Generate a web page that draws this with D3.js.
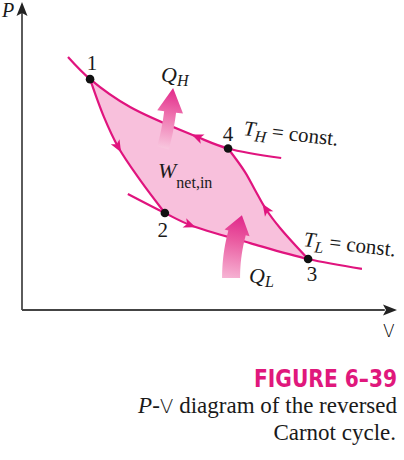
<!DOCTYPE html>
<html><head><meta charset="utf-8">
<script src="https://cdn.jsdelivr.net/npm/d3@7"></script>
<style>body{margin:0;background:#fff} svg{display:block}</style>
</head><body>
<svg id="c" width="404" height="460"></svg>
<script>
// ---- data (arbitrary V,P units) ----
const isoHighV = [1.23, 1.82, 2.89, 4.68, 5.51, 6.93];
const isoHighP = [8.24, 7.52, 6.61, 5.64, 5.26, 4.95];
const isoLowV  = [2.83, 3.82, 4.49, 6.10, 7.65, 9.09];
const isoLowP  = [3.78, 3.16, 2.77, 2.18, 1.66, 1.34];
const adi12V   = [1.82, 2.19, 2.57, 3.16, 3.82];
const adi12P   = [7.52, 6.29, 5.31, 4.23, 3.16];
const adi34V   = [7.65, 6.90, 6.52, 6.23, 5.96, 5.51];
const adi34P   = [1.66, 2.67, 3.29, 3.91, 4.50, 5.26];
const stateLabels = ["1", "2", "3", "4"];
const stateV = [1.82, 3.82, 7.65, 5.51];
const stateP = [7.52, 3.16, 1.66, 5.26];
// direction arrows on the cycle
const dirArrowV = [2.57, 4.49, 6.52, 4.68];
const dirArrowP = [5.31, 2.77, 3.29, 5.64];
// heat arrows: bottom, head base, tip
const heatNames = ["QH", "QL"];
const heatBottomV = [3.77, 5.59], heatBottomP = [5.28, 1.04];
const heatBaseV   = [3.96, 5.75], heatBaseP   = [6.45, 2.51];
const heatTipV    = [4.04, 5.88], heatTipP    = [7.23, 3.09];

const MAG = "#e0147e", FILL = "#f8c0dc";
const svg = d3.select("#c");
const x = d3.scaleLinear().domain([0, 10]).range([22, 396]);
const y = d3.scaleLinear().domain([0, 10]).range([310, 3]);
const zip = (V, P) => V.map((v, i) => [v, P[i]]);
const line = d3.line().x(d => x(d[0])).y(d => y(d[1])).curve(d3.curveCatmullRom.alpha(0.5));

const TH = zip(isoHighV, isoHighP), TL = zip(isoLowV, isoLowP);
const A12 = zip(adi12V, adi12P), A34 = zip(adi34V, adi34P);

// fill: 1 -> 4 along TH, 4 -> 3, 3 -> 2 along TL, 2 -> 1
const seg = [TH.slice(1, 5), A34.slice().reverse(), TL.slice(1, 5).reverse(), A12.slice().reverse()];
const fillD = seg.map((s, i) => i === 0 ? line(s) : line(s).replace(/^M/, "L")).join("") + "Z";
svg.append("path").attr("d", fillD).attr("fill", FILL);

// axes via d3 axes (no ticks)
svg.append("g").attr("transform", `translate(${x(0)},0)`)
  .call(d3.axisLeft(y).ticks(0).tickSizeOuter(0))
  .call(g => g.select(".domain").attr("stroke", "#333").attr("stroke-width", 1.6).attr("d", `M0,${y(0)}V${y(9.7)}`));
svg.append("g").attr("transform", `translate(0,${y(0)})`)
  .call(d3.axisBottom(x).ticks(0).tickSizeOuter(0))
  .call(g => g.select(".domain").attr("stroke", "#444").attr("stroke-width", 2).attr("d", `M${x(0)},0H${x(9.7)}`));
const ax = [[x(0), y(10) - 1, -90], [x(10) + 1, y(0), 0]];
ax.forEach(a => svg.append("path").attr("d", "M0,0L-14,-5.5L-11,0L-14,5.5Z").attr("fill", "#222")
  .attr("transform", `translate(${a[0]},${a[1]}) rotate(${a[2]})`));

// curves
const paths = [TH, TL, A12, A34].map(d => svg.append("path").attr("d", line(d))
  .attr("fill", "none").attr("stroke", MAG).attr("stroke-width", 2.2).node());
const arrowPath = [2, 1, 3, 0];
const arrowRev = [false, false, false, true];
dirArrowV.forEach((v, i) => {
  const p = paths[arrowPath[i]], L = p.getTotalLength();
  const tx = x(v), ty = y(dirArrowP[i]);
  let best = 0, bd = 1e9;
  for (let l = 0; l <= L; l += 0.5) { const q = p.getPointAtLength(l); const d = (q.x - tx) ** 2 + (q.y - ty) ** 2; if (d < bd) { bd = d; best = l; } }
  const a = p.getPointAtLength(Math.max(0, best - 2)), b = p.getPointAtLength(Math.min(L, best + 2));
  let ang = Math.atan2(b.y - a.y, b.x - a.x) * 180 / Math.PI;
  if (arrowRev[i]) ang += 180;
  const c = p.getPointAtLength(best);
  svg.append("path").attr("d", "M6,0L-6,-5L-3,0L-6,5Z").attr("fill", MAG)
    .attr("transform", `translate(${c.x},${c.y}) rotate(${ang})`);
});

// heat arrows
const defs = svg.append("defs");
heatNames.forEach((n, i) => {
  const B = [x(heatBottomV[i]), y(heatBottomP[i])], H = [x(heatBaseV[i]), y(heatBaseP[i])], T = [x(heatTipV[i]), y(heatTipP[i])];
  const dl = Math.hypot(T[0] - H[0], T[1] - H[1]); const d = [(T[0] - H[0]) / dl, (T[1] - H[1]) / dl];
  const len = Math.hypot(H[0] - B[0], H[1] - B[1]);
  const C = [H[0] - d[0] * len * 0.5, H[1] - d[1] * len * 0.5];
  const hw = i === 0 ? 6 : 9, hh = 13;
  const left = [], right = [];
  for (let k = 0; k <= 20; k++) {
    const t = k / 20;
    const px = (1 - t) ** 2 * B[0] + 2 * (1 - t) * t * C[0] + t * t * H[0];
    const py = (1 - t) ** 2 * B[1] + 2 * (1 - t) * t * C[1] + t * t * H[1];
    const dx = 2 * (1 - t) * (C[0] - B[0]) + 2 * t * (H[0] - C[0]);
    const dy = 2 * (1 - t) * (C[1] - B[1]) + 2 * t * (H[1] - C[1]);
    const m = Math.hypot(dx, dy); const nx = -dy / m, ny = dx / m;
    left.push([px + nx * hw, py + ny * hw]); right.push([px - nx * hw, py - ny * hw]);
  }
  const nrm = [-d[1], d[0]];
  const pts = [...left, [H[0] + nrm[0] * hh, H[1] + nrm[1] * hh], T, [H[0] - nrm[0] * hh, H[1] - nrm[1] * hh], ...right.reverse()];
  const g = defs.append("linearGradient").attr("id", "g" + n).attr("gradientUnits", "userSpaceOnUse")
    .attr("x1", B[0]).attr("y1", B[1]).attr("x2", T[0]).attr("y2", T[1]);
  if (i === 0) {
    g.append("stop").attr("offset", 0).attr("stop-color", "#f8c6de");
    g.append("stop").attr("offset", 0.55).attr("stop-color", "#ee72ae");
    g.append("stop").attr("offset", 1).attr("stop-color", "#e2288a");
  } else {
    g.append("stop").attr("offset", 0).attr("stop-color", "#f6b2d3");
    g.append("stop").attr("offset", 0.6).attr("stop-color", "#ea5aa0");
    g.append("stop").attr("offset", 1).attr("stop-color", "#e0258a");
  }
  svg.append("path").attr("d", "M" + pts.map(p => p.join(",")).join("L") + "Z").attr("fill", `url(#g${n})`);
});

// state dots
stateV.forEach((v, i) => svg.append("circle").attr("cx", x(v)).attr("cy", y(stateP[i])).attr("r", 4.3).attr("fill", "#111"));

// labels
const serif = "'Liberation Serif','Times New Roman',serif";
const T = (tx, ty, s, opts = {}) => svg.append("text").attr("x", tx).attr("y", ty).attr("font-family", serif)
  .attr("font-size", opts.size || 18).attr("fill", opts.fill || "#1a1a1a").attr("text-anchor", opts.anchor || "start")
  .attr("font-style", opts.italic ? "italic" : "normal").text(s);
const stateDX = [2, -2, 4, 0], stateDY = [-9, 24, 22, -8];
stateLabels.forEach((s, i) => T(x(stateV[i]) + stateDX[i], y(stateP[i]) + stateDY[i], s, { anchor: "middle", size: 21 }));

svg.append("text").attr("x", 2).attr("y", 17).attr("font-family", serif).attr("font-style", "italic").attr("font-size", 20).attr("fill", "#1a1a1a").text("P");
svg.append("text").attr("x", 383).attr("y", 337).attr("font-family", "'DejaVu Sans',sans-serif").attr("font-weight", 300).attr("font-size", 17).attr("fill", "#000").text("V");

function sub(tx, ty, main, subs, rest, rot, mainItalic, subItalic, size, subSize, dy) {
  const t = svg.append("text").attr("x", tx).attr("y", ty).attr("font-family", serif).attr("font-size", size).attr("fill", "#1a1a1a");
  if (rot) t.attr("transform", `rotate(${rot},${tx},${ty})`);
  t.append("tspan").attr("font-style", mainItalic ? "italic" : "normal").text(main);
  t.append("tspan").attr("font-style", subItalic ? "italic" : "normal").attr("font-size", subSize).attr("dy", dy).text(subs);
  if (rest) t.append("tspan").attr("dy", -dy).text(rest);
}
sub(161, 82, "Q", "H", null, 0, true, true, 22, 16, 4);
sub(243, 135, "T", "H", " = const.", 6.5, true, true, 21, 16, 5);
sub(158, 178, "W", "net,in", null, 0, true, false, 22, 16, 10);
sub(303, 246, "T", "L", " = const.", 6.5, true, true, 21, 16, 5);
sub(249, 283, "Q", "L", null, 0, true, true, 22, 16, 4);

// caption: condensed bold title, squeezed horizontally to the reference width
const capG = svg.append("g").attr("transform", "translate(397,387)");
const cap = capG.append("text").attr("x", 0).attr("y", 0).attr("text-anchor", "end")
  .attr("font-family", "'DejaVu Sans Condensed','Liberation Sans Narrow','Roboto',sans-serif").attr("font-weight", "bold")
  .attr("font-size", 24).attr("fill", "#e0187c").text("FIGURE 6–39");
const natW = cap.node().getComputedTextLength();
if (natW > 143) capG.attr("transform", `translate(397,387) scale(${143 / natW},1)`);
const c1 = svg.append("text").attr("x", 397).attr("y", 413).attr("text-anchor", "end").attr("font-family", serif).attr("font-size", 23).attr("fill", "#1a1a1a");
c1.append("tspan").attr("font-style", "italic").text("P");
c1.append("tspan").text("-");
c1.append("tspan").attr("font-family", "'DejaVu Sans',sans-serif").attr("font-weight", 300).attr("font-size", 20).text("V");
c1.append("tspan").text(" diagram of the reversed");
svg.append("text").attr("x", 396).attr("y", 440).attr("text-anchor", "end").attr("font-family", serif).attr("font-size", 23).attr("fill", "#1a1a1a").text("Carnot cycle.");
</script>
</body></html>
